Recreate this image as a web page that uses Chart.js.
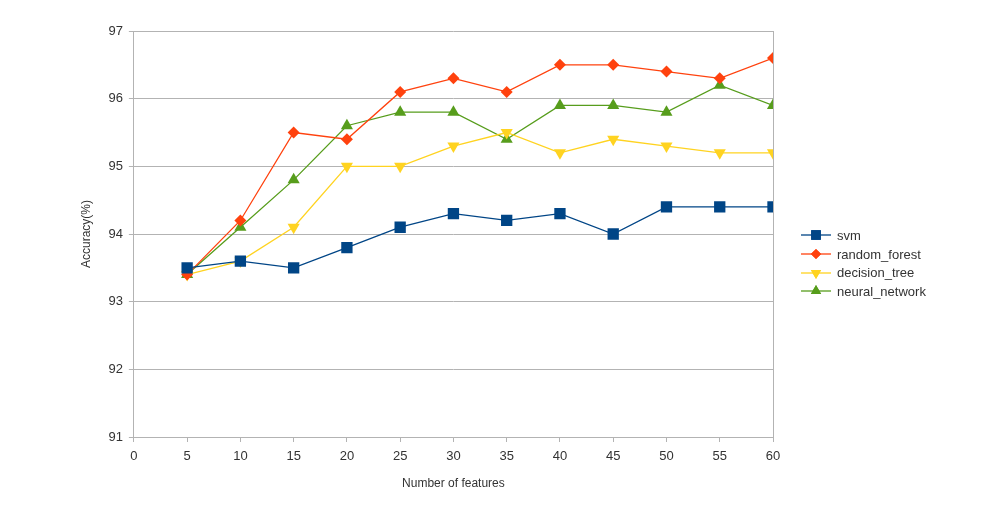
<!DOCTYPE html>
<html><head><meta charset="utf-8">
<script src="https://cdn.jsdelivr.net/npm/chart.js@4.4.0/dist/chart.umd.min.js"></script>
<style>
html,body{margin:0;padding:0;background:#fff;}
#wrap{position:relative;width:990px;height:507px;}
#legend{position:absolute;left:801px;top:226px;font-family:"Liberation Sans",Arial,sans-serif;font-size:13px;color:#333;}
.item{display:flex;align-items:center;height:18.7px;}
.item canvas{margin-right:6px;}
</style></head>
<body><div id="wrap"><canvas id="c" width="990" height="507"></canvas><div id="legend"></div></div>
<script>
const features = [5,10,15,20,25,30,35,40,45,50,55,60];
const svm = [93.5,93.6,93.5,93.8,94.1,94.3,94.2,94.3,94.0,94.4,94.4,94.4];
const randomForest = [93.4,94.2,95.5,95.4,96.1,96.3,96.1,96.5,96.5,96.4,96.3,96.6];
const decisionTree = [93.4,93.6,94.1,95.0,95.0,95.3,95.5,95.2,95.4,95.3,95.2,95.2];
const neuralNetwork = [93.4,94.1,94.8,95.6,95.8,95.8,95.4,95.9,95.9,95.8,96.2,95.9];
const seriesNames = ['svm','random_forest','decision_tree','neural_network'];
const xTicks = [0,5,10,15,20,25,30,35,40,45,50,55,60];

const styles = [
  {color:'#004586', pointStyle:'rect', radius:8, rotation:0},
  {color:'#ff420e', pointStyle:'rectRot', radius:6, rotation:0},
  {color:'#ffd320', pointStyle:'triangle', radius:7, rotation:180},
  {color:'#579d1c', pointStyle:'triangle', radius:7, rotation:0}
];
const values = [svm, randomForest, decisionTree, neuralNetwork];
const datasets = values.map((vals,i)=>({
  label: seriesNames[i],
  data: features.map((f,j)=>({x:f,y:vals[j]})),
  borderColor: styles[i].color,
  backgroundColor: styles[i].color,
  borderWidth: 1.3,
  pointStyle: styles[i].pointStyle,
  pointRadius: styles[i].radius,
  pointRotation: styles[i].rotation,
  pointBorderWidth: 0,
  pointHoverRadius: styles[i].radius,
  tension: 0
}));
const FONT = "'Liberation Sans', Arial, sans-serif";
new Chart(document.getElementById('c'), {
  type: 'line',
  data: {datasets},
  options: {
    responsive:false, animation:false,
    layout:{padding:{left:75,right:217,top:31,bottom:12}},
    plugins:{legend:{display:false}, tooltip:{enabled:false}},
    scales:{
      x:{type:'linear', min:0, max:60,
        afterBuildTicks:(s)=>{s.ticks = xTicks.map(v=>({value:v}));},
        ticks:{color:'#333', font:{family:FONT,size:13}, padding:7, maxRotation:0},
        grid:{color:(c)=> c.tick && c.tick.value===60 ? '#b3b3b3':'rgba(0,0,0,0)', tickColor:'#b3b3b3', tickLength:5, drawOnChartArea:true},
        border:{color:'#b3b3b3'},
        title:{display:true, text:'Number of features', color:'#333', font:{family:FONT,size:12}, padding:{top:5}}
      },
      y:{min:91, max:97,
        ticks:{stepSize:1, color:'#333', font:{family:FONT,size:13}, padding:6},
        grid:{color:'#b3b3b3', tickColor:'#b3b3b3', tickLength:5},
        border:{color:'#b3b3b3'},
        title:{display:true, text:'Accuracy(%)', color:'#333', font:{family:FONT,size:12}, padding:{bottom:9}}
      }
    }
  }
});
const lg = document.getElementById('legend');
seriesNames.forEach((n,i)=>{
  const d = document.createElement('div'); d.className='item';
  const cv = document.createElement('canvas'); cv.width=30; cv.height=14;
  const ctx = cv.getContext('2d');
  ctx.strokeStyle=styles[i].color; ctx.lineWidth=1.3;
  ctx.beginPath(); ctx.moveTo(0,7); ctx.lineTo(30,7); ctx.stroke();
  ctx.fillStyle=styles[i].color;
  Chart.helpers.drawPoint(ctx,{pointStyle:styles[i].pointStyle, radius:styles[i].radius*0.85, rotation:styles[i].rotation, borderWidth:0},15,7);
  ctx.fill();
  const t = document.createElement('span'); t.textContent=n;
  d.appendChild(cv); d.appendChild(t); lg.appendChild(d);
});
</script></body></html>
